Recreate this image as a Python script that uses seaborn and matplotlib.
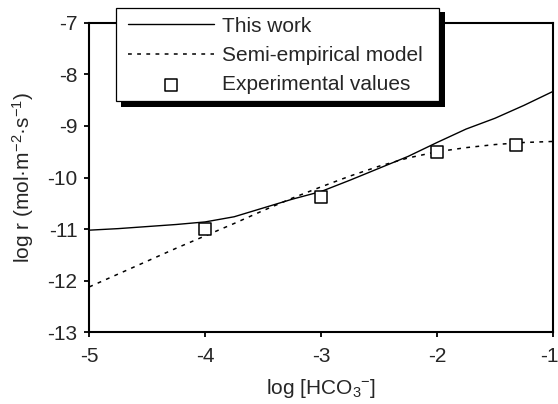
import matplotlib
matplotlib.use('Agg')
import numpy as np
import pandas as pd
import seaborn as sns
import matplotlib.pyplot as plt
import matplotlib.transforms as mtransforms
from matplotlib.patches import Rectangle

# values
log_hco3 = [-5.0, -4.75, -4.5, -4.25, -4.0, -3.75, -3.5, -3.25, -3.0,
            -2.75, -2.5, -2.25, -2.0, -1.75, -1.5, -1.25, -1.0]
this_work = [-11.02, -10.99, -10.95, -10.91, -10.86, -10.76, -10.59, -10.42, -10.27,
             -10.05, -9.82, -9.59, -9.32, -9.06, -8.85, -8.60, -8.33]
semi_empirical = [-12.12, -11.87, -11.62, -11.37, -11.13, -10.89, -10.64, -10.40, -10.18,
                  -9.97, -9.78, -9.62, -9.50, -9.42, -9.36, -9.32, -9.30]
exp_x = [-4.0, -3.0, -2.0, -1.32]
exp_y = [-11.0, -10.37, -9.5, -9.37]

xticks = [-5, -4, -3, -2, -1]
yticks = [-13, -12, -11, -10, -9, -8, -7]

sns.set_style('ticks')
plt.rcParams['font.family'] = ['Liberation Sans', 'DejaVu Sans']
plt.rcParams['mathtext.default'] = 'regular'
plt.rcParams['axes.unicode_minus'] = False

df = pd.DataFrame({'x': log_hco3, 'work': this_work, 'semi': semi_empirical})
df_exp = pd.DataFrame({'x': exp_x, 'y': exp_y})

fig = plt.figure(figsize=(5.58, 4.04), dpi=100)
ax = fig.add_axes([0.160, 0.1775, 0.831, 0.766])

sns.lineplot(data=df, x='x', y='work', color='black', lw=1.0, label='This work', ax=ax)
sns.lineplot(data=df, x='x', y='semi', color='black', lw=1.1, linestyle=(0, (2.5, 3.5)),
             label='Semi-empirical model', ax=ax)
sns.scatterplot(data=df_exp, x='x', y='y', marker='s', s=85, facecolor='white',
                edgecolor='black', linewidth=1.1, label='Experimental values', zorder=4, ax=ax)

ax.set_xlim(-5, -1)
ax.set_ylim(-13, -7)
ax.set_xticks(xticks)
ax.set_yticks(yticks)
ax.tick_params(axis='both', direction='out', length=3.5, width=1.3, labelsize=15, color='black')
ax.tick_params(axis='x', pad=7)
ax.tick_params(axis='y', pad=5)
for sp in ax.spines.values():
    sp.set_linewidth(1.5)
    sp.set_color('black')

# the "-1" label sits on the right edge of the figure; nudge it in a little
last = ax.get_xticklabels()[-1]
last.set_transform(last.get_transform() + mtransforms.ScaledTranslation(-4 / 100, 0, fig.dpi_scale_trans))

ax.set_xlabel('log [HCO$_3$$^{-}$]', fontsize=15, labelpad=8)
ax.set_ylabel('log r (mol·m$^{-2}$·s$^{-1}$)', fontsize=15, labelpad=8)

handles, labels = ax.get_legend_handles_labels()
if ax.get_legend() is not None:
    ax.get_legend().remove()

W, H = 558.0, 404.0
# shadow + frame of the legend box (pixel positions of the reference)
fig.patches.append(Rectangle((121 / W, 1 - 107 / H), 324 / W, 95 / H, transform=fig.transFigure,
                             facecolor='black', edgecolor='none', zorder=3))
fig.patches.append(Rectangle((116 / W, 1 - 100.7 / H), 323 / W, 93 / H, transform=fig.transFigure,
                             facecolor='white', edgecolor='black', lw=0.9, zorder=3.5))
fig.legend(handles, labels, loc='upper left', bbox_to_anchor=(128 / W, 1 - 16.5 / H),
           bbox_transform=fig.transFigure, frameon=False, borderpad=0, borderaxespad=0,
           handlelength=4.15, handletextpad=0.38, labelspacing=0.5, fontsize=15)

fig.savefig('out.png', dpi=100)
